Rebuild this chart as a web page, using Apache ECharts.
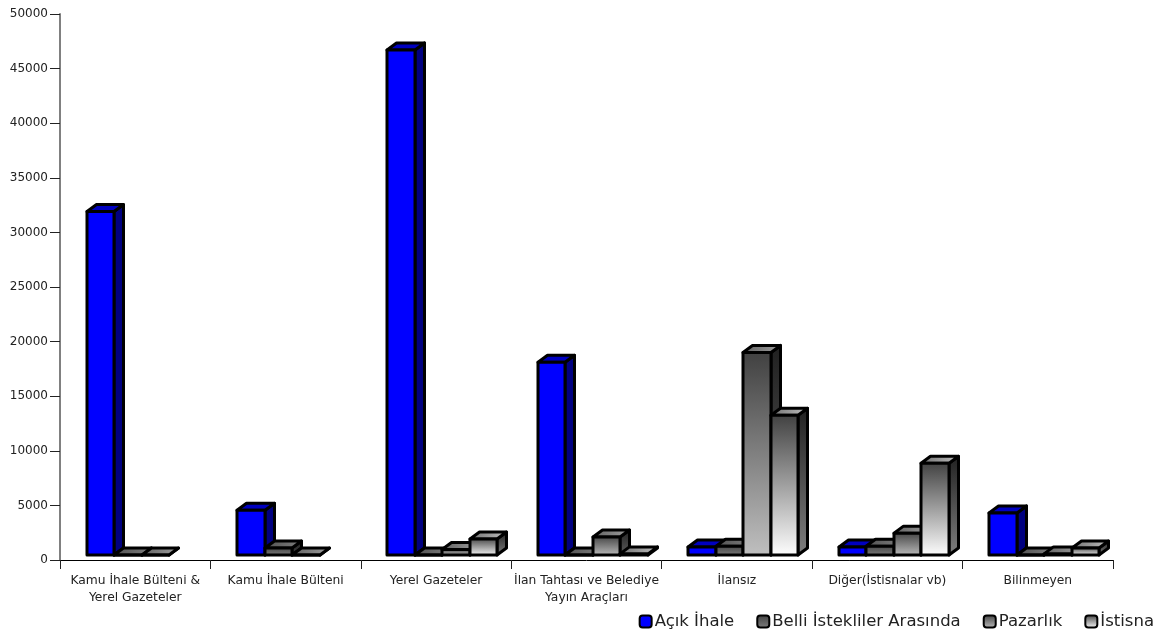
<!DOCTYPE html>
<html><head><meta charset="utf-8">
<style>html,body{margin:0;padding:0;background:#fff}#c{width:1160px;height:632px}</style>
<script src="https://cdn.jsdelivr.net/npm/echarts@6/dist/echarts.min.js"></script>
</head><body><div id="c"></div>
<script>
const categories = ['Kamu İhale Bülteni &\nYerel Gazeteler','Kamu İhale Bülteni','Yerel Gazeteler','İlan Tahtası ve Belediye\nYayın Araçları','İlansız','Diğer(İstisnalar vb)','Bilinmeyen'];
const yTicks = {min:0,max:50000,interval:5000};
const acikIhale = [31450,4100,46250,17650,730,730,3850];
const belliIstekliler = [0,640,0,0,800,800,0];
const pazarlik = [0,0,500,1650,18550,2000,100];
const istisna = [null,null,1460,100,12800,8400,640];

const FONT='"DejaVu Sans",Verdana,sans-serif';
const lin=(a,b,h)=>({type:'linear',x:0,y:0,x2:h?1:0,y2:h?0:1,colorStops:[{offset:0,color:a},{offset:1,color:b}]});
const looks={
 'Açık İhale':{front:'#0000ff',side:'#000080',top:'#0000c0'},
 'Belli İstekliler Arasında':{front:lin('#404040','#808080'),side:lin('#202020','#404040'),top:lin('#505050','#808080',1)},
 'Pazarlık':{front:lin('#404040','#c0c0c0'),side:lin('#202020','#606060'),top:lin('#606060','#a0a0a0',1)},
 'İstisna':{front:lin('#404040','#ffffff'),side:lin('#202020','#808080'),top:lin('#707070','#c0c0c0',1)}
};
const SHIFT_Y=5,DX=9.5,DY=7,BAR=27.5,GROUP_OFF=26.6;
function maker(name,order){
 const L=looks[name];
 return function(params,api){
  const c=api.value(0), v=api.value(1);
  if(v==null||isNaN(v)) return null;
  const band=api.size([1,0])[0];
  const base=api.coord([c,0]);
  const top=api.coord([c,v]);
  const x0=Math.round(base[0]-band/2+GROUP_OFF+order*BAR);
  const x1=Math.round(base[0]-band/2+GROUP_OFF+(order+1)*BAR);
  const y0=base[1]-SHIFT_Y, y1=top[1]-SHIFT_Y;
  const sty=f=>({fill:f,stroke:'#000',lineWidth:3,lineJoin:'round'});
  return {type:'group',children:[
   {type:'polygon',shape:{points:[[x1,y1],[x1+DX,y1-DY],[x1+DX,y0-DY],[x1,y0]]},style:sty(L.side)},
   {type:'polygon',shape:{points:[[x0,y1],[x0+DX,y1-DY],[x1+DX,y1-DY],[x1,y1]]},style:sty(L.top)},
   {type:'polygon',shape:{points:[[x0,y0],[x0,y1],[x1,y1],[x1,y0]]},style:sty(L.front)}
  ]};
 };
}
const seriesData=[['Açık İhale',acikIhale],['Belli İstekliler Arasında',belliIstekliler],['Pazarlık',pazarlik],['İstisna',istisna]];
const chart=echarts.init(document.getElementById('c'),null,{renderer:'canvas'});
chart.setOption({
 animation:false,
 backgroundColor:'#fff',
 textStyle:{fontFamily:FONT},
 grid:{left:60,right:47,top:14,bottom:72,containLabel:false},
 legend:{
  right:1,top:608,itemWidth:12,itemHeight:12,itemGap:22,icon:'roundRect',
  textStyle:{fontFamily:FONT,fontSize:16.5,color:'#222',padding:[0,0,0,-2]},
  data:seriesData.map(s=>({name:s[0],itemStyle:{color:looks[s[0]].front,borderColor:'#000',borderWidth:2}}))
 },
 xAxis:{type:'category',data:categories,boundaryGap:true,
  axisLine:{lineStyle:{color:'#000',width:1}},
  axisTick:{show:true,length:9,alignWithLabel:false,lineStyle:{color:'#222'}},
  axisLabel:{interval:0,fontFamily:FONT,fontSize:12.3,color:'#222',margin:12,lineHeight:17,hideOverlap:false},
  splitLine:{show:false}},
 yAxis:{type:'value',...yTicks,
  axisLine:{show:true,lineStyle:{color:'#808080',width:2}},
  axisTick:{show:true,length:10,lineStyle:{color:'#222'}},
  axisLabel:{fontFamily:FONT,fontSize:12,color:'#222',margin:12,formatter:v=>String(v)},
  splitLine:{show:false}},
 series:seriesData.map((s,i)=>({name:s[0],type:'custom',renderItem:maker(s[0],i),
  encode:{x:0,y:1},clip:false,
  itemStyle:{color:'#808080'},
  data:s[1].map((v,k)=>[k,v])}))
});
</script></body></html>
